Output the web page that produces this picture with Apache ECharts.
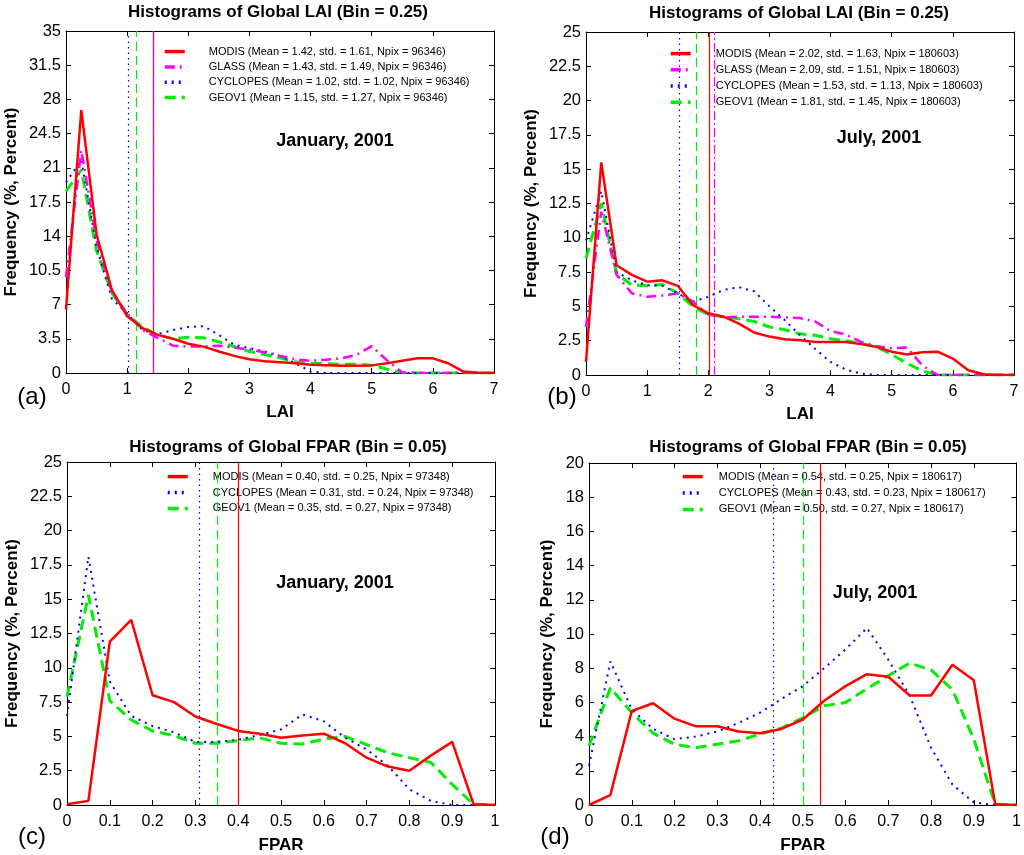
<!DOCTYPE html>
<html>
<head>
<meta charset="utf-8">
<title>Histograms of Global LAI / FPAR</title>
<script src="https://cdn.jsdelivr.net/npm/echarts@6/dist/echarts.min.js"></script>
<style>
  html, body { margin: 0; padding: 0; background: #fff; }
  #main { width: 1024px; height: 855px; }
</style>
</head>
<body>
<div id="main"></div>
<script>
// bin centres
var laiBins = [0, 0.25, 0.5, 0.75, 1, 1.25, 1.5, 1.75, 2, 2.25, 2.5, 2.75, 3, 3.25, 3.5, 3.75,
               4, 4.25, 4.5, 4.75, 5, 5.25, 5.5, 5.75, 6, 6.25, 6.5, 6.75, 7];
var fparBins = [0, 0.05, 0.1, 0.15, 0.2, 0.25, 0.3, 0.35, 0.4, 0.45, 0.5, 0.55, 0.6, 0.65,
                0.7, 0.75, 0.8, 0.85, 0.9, 0.95, 1];

// (a) LAI, January 2001
var laiJanModis = [6.5, 26.9, 14.2, 8.5, 5.8, 4.6, 3.9, 3.5, 3.0, 2.7, 2.2, 1.75, 1.4, 1.2, 1.1, 1.0,
                   0.85, 0.8, 0.75, 0.75, 0.78, 1.0, 1.25, 1.5, 1.5, 1.0, 0.15, 0.03, 0];
var laiJanGlass = [9.8, 22.8, 13.6, 8.3, 6.1, 4.4, 3.6, 2.8, 2.7, 2.7, 2.8, 2.6, 2.4, 2.1, 1.75, 1.4,
                   1.25, 1.35, 1.5, 1.85, 2.75, 1.3, 0.05, 0, 0, 0, 0, 0, 0];
var laiJanCyclopes = [19.5, 21.8, 12.9, 7.6, 6.1, 4.4, 4.0, 4.4, 4.7, 4.8, 3.9, 2.9, 2.55, 2.2, 1.75, 1.0,
                      0.15, 0, 0, 0, 0, 0, 0, 0, 0, 0, 0, 0, 0];
var laiJanGeov1 = [18.6, 20.8, 12.5, 8.2, 6.0, 4.7, 3.9, 3.5, 3.65, 3.6, 3.2, 2.7, 2.2, 1.9, 1.55, 1.15,
                   1.0, 0.95, 0.9, 0.9, 0.8, 0.4, 0.05, 0, 0, 0, 0, 0, 0];
var laiJanMeans = [1.42, 1.43, 1.02, 1.15];
var laiJanStd = [1.61, 1.49, 1.02, 1.27];
var laiJanNpix = 96346;

// (b) LAI, July 2001
var laiJulModis = [0.95, 15.5, 8.0, 7.3, 6.8, 6.9, 6.5, 5.1, 4.5, 4.25, 3.75, 3.1, 2.8, 2.6, 2.53, 2.4,
                   2.4, 2.4, 2.25, 2.05, 1.7, 1.5, 1.65, 1.7, 1.2, 0.35, 0.05, 0, 0];
var laiJulGlass = [3.5, 11.9, 7.3, 5.95, 5.7, 5.8, 5.95, 5.35, 4.4, 4.2, 4.25, 4.25, 4.25, 4.2, 4.15, 3.9,
                   3.2, 2.95, 2.4, 2.1, 1.95, 2.0, 0.7, 0, 0, 0, 0, 0, 0];
var laiJulCyclopes = [9.8, 13.4, 7.5, 6.9, 6.55, 6.5, 5.95, 5.35, 5.7, 6.2, 6.4, 6.1, 5.0, 4.0, 2.9, 1.9,
                      0.95, 0.4, 0.1, 0, 0, 0, 0, 0, 0, 0, 0, 0, 0];
var laiJulGeov1 = [8.5, 12.5, 7.4, 6.55, 6.5, 6.6, 5.95, 5.0, 4.4, 4.25, 4.1, 3.9, 3.5, 3.3, 3.0, 2.9,
                   2.65, 2.5, 2.3, 2.05, 1.5, 0.85, 0.3, 0, 0, 0, 0, 0, 0];
var laiJulMeans = [2.02, 2.09, 1.53, 1.81];
var laiJulStd = [1.63, 1.51, 1.13, 1.45];
var laiJulNpix = 180603;

// (c) FPAR, January 2001
var fparJanModis = [0.05, 0.3, 11.9, 13.5, 8.0, 7.5, 6.45, 5.9, 5.4, 5.2, 4.9, 5.07, 5.2, 4.5, 3.45,
                    2.8, 2.5, 3.6, 4.6, 0.05, 0];
var fparJanCyclopes = [6.5, 18.1, 9.0, 6.5, 5.75, 5.3, 4.6, 4.6, 4.75, 5.1, 5.5, 6.6, 6.1, 4.9, 4.05,
                       2.85, 1.15, 0.3, 0, 0, 0];
var fparJanGeov1 = [7.9, 15.3, 7.6, 6.2, 5.4, 5.05, 4.5, 4.5, 4.7, 4.9, 4.5, 4.45, 4.8, 5.0, 4.4,
                    3.8, 3.45, 3.1, 1.5, 0.05, 0];
var fparJanMeans = [0.40, 0.31, 0.35];
var fparJanStd = [0.25, 0.24, 0.27];
var fparJanNpix = 97348;

// (d) FPAR, July 2001
var fparJulModis = [0, 0.58, 5.5, 5.95, 5.05, 4.6, 4.6, 4.3, 4.2, 4.45, 5.0, 6.1, 6.95, 7.65, 7.5,
                    6.4, 6.4, 8.2, 7.3, 0.05, 0];
var fparJulCyclopes = [2.3, 8.4, 5.6, 4.45, 3.85, 4.0, 4.3, 4.8, 5.4, 6.2, 6.95, 8.0, 9.1, 10.35, 8.5,
                       6.4, 3.35, 1.2, 0.15, 0, 0];
var fparJulGeov1 = [3.45, 6.85, 5.4, 4.2, 3.55, 3.35, 3.55, 3.75, 4.15, 4.5, 5.1, 5.8, 6.0, 6.8, 7.55,
                    8.3, 7.9, 6.75, 3.85, 0.05, 0];
var fparJulMeans = [0.54, 0.43, 0.50];
var fparJulStd = [0.25, 0.23, 0.27];
var fparJulNpix = 180617;

var FONT = 'Liberation Sans, Arial, sans-serif';

// line look per product
var looks = {
    MODIS:    { color: '#ff0000', width: 2.5, type: 'solid',         meanType: 'solid' },
    GLASS:    { color: '#ff00ff', width: 2.5, type: [10, 5, 2, 5],   meanType: [9, 3, 2, 3] },
    CYCLOPES: { color: '#0000ff', width: 2,   type: [2, 5],          meanType: [1.5, 4] },
    GEOV1:    { color: '#00ee00', width: 3,   type: [11, 6],         meanType: [9, 5] }
};

function zip(xs, ys) {
    return xs.map(function (x, i) { return [x, ys[i]]; });
}

var panels = [
    { tag: '(a)', title: 'Histograms of Global LAI (Bin = 0.25)', when: 'January, 2001', xName: 'LAI',
      bins: laiBins, names: ['MODIS', 'GLASS', 'CYCLOPES', 'GEOV1'],
      vals: [laiJanModis, laiJanGlass, laiJanCyclopes, laiJanGeov1],
      means: laiJanMeans, std: laiJanStd, npix: laiJanNpix,
      xmax: 7, xstep: 1, ymax: 35, ystep: 3.5,
      grid: { left: 66, top: 31, width: 428, height: 342 }, yGap: 46, xGap: 31,
      leg: { left: 163, top: 46, gap: 4.1, pad: 19 },
      titleAt: [278, 12], whenAt: [335, 141], tagAt: [32, 397] },
    { tag: '(b)', title: 'Histograms of Global LAI (Bin = 0.25)', when: 'July, 2001', xName: 'LAI',
      bins: laiBins, names: ['MODIS', 'GLASS', 'CYCLOPES', 'GEOV1'],
      vals: [laiJulModis, laiJulGlass, laiJulCyclopes, laiJulGeov1],
      means: laiJulMeans, std: laiJulStd, npix: laiJulNpix,
      xmax: 7, xstep: 1, ymax: 25, ystep: 2.5,
      grid: { left: 586, top: 32, width: 428, height: 343 }, yGap: 46, xGap: 31,
      leg: { left: 669, top: 48, gap: 5, pad: 20 },
      titleAt: [799, 13], whenAt: [879, 138], tagAt: [562, 397] },
    { tag: '(c)', title: 'Histograms of Global FPAR (Bin = 0.05)', when: 'January, 2001', xName: 'FPAR',
      bins: fparBins, names: ['MODIS', 'CYCLOPES', 'GEOV1'],
      vals: [fparJanModis, fparJanCyclopes, fparJanGeov1],
      means: fparJanMeans, std: fparJanStd, npix: fparJanNpix,
      xmax: 1, xstep: 0.1, ymax: 25, ystep: 2.5,
      grid: { left: 67, top: 462, width: 428, height: 344 }, yGap: 46, xGap: 32,
      leg: { left: 166, top: 471, gap: 4.7, pad: 20 },
      titleAt: [288, 447], whenAt: [335, 583], tagAt: [32, 837] },
    { tag: '(d)', title: 'Histograms of Global FPAR (Bin = 0.05)', when: 'July, 2001', xName: 'FPAR',
      bins: fparBins, names: ['MODIS', 'CYCLOPES', 'GEOV1'],
      vals: [fparJulModis, fparJulCyclopes, fparJulGeov1],
      means: fparJulMeans, std: fparJulStd, npix: fparJulNpix,
      xmax: 1, xstep: 0.1, ymax: 20, ystep: 2,
      grid: { left: 589, top: 463, width: 428, height: 343 }, yGap: 33, xGap: 32,
      leg: { left: 681, top: 471, gap: 5.2, pad: 11 },
      titleAt: [808, 447], whenAt: [875, 593], tagAt: [555, 837] }
];

var grids = [], xAxes = [], yAxes = [], series = [], legends = [], texts = [];

var boxLine = { show: true, onZero: false, lineStyle: { color: '#000', width: 1 } };
var boxTick = { show: true, inside: true, length: 5, lineStyle: { color: '#000' } };

panels.forEach(function (p, k) {
    grids.push(p.grid);
    // bottom / left axes with labels
    xAxes.push({
        type: 'value', gridIndex: k, position: 'bottom', min: 0, max: p.xmax, interval: p.xstep,
        name: p.xName, nameLocation: 'middle', nameGap: p.xGap,
        nameTextStyle: { fontFamily: FONT, fontWeight: 'bold', fontSize: 17, color: '#000' },
        axisLine: boxLine, axisTick: boxTick, splitLine: { show: false },
        axisLabel: { fontFamily: FONT, fontSize: 16, color: '#000', margin: 9 }
    });
    yAxes.push({
        type: 'value', gridIndex: k, position: 'left', min: 0, max: p.ymax, interval: p.ystep,
        name: 'Frequency (%, Percent)', nameLocation: 'middle', nameRotate: 90, nameGap: p.yGap,
        nameTextStyle: { fontFamily: FONT, fontWeight: 'bold', fontSize: 17, color: '#000' },
        axisLine: boxLine, axisTick: boxTick, splitLine: { show: false },
        axisLabel: { fontFamily: FONT, fontSize: 16.5, color: '#000', margin: 5 }
    });
    // top / right axes close the box
    xAxes.push({
        type: 'value', gridIndex: k, position: 'top', min: 0, max: p.xmax, interval: p.xstep,
        axisLine: boxLine, axisTick: boxTick, axisLabel: { show: false }, splitLine: { show: false }
    });
    yAxes.push({
        type: 'value', gridIndex: k, position: 'right', min: 0, max: p.ymax, interval: p.ystep,
        axisLine: boxLine, axisTick: boxTick, axisLabel: { show: false }, splitLine: { show: false }
    });

    var legendNames = [];
    p.names.forEach(function (nm, i) {
        var lk = looks[nm];
        var label = nm + ' (Mean = ' + p.means[i].toFixed(2) + ', std. = ' + p.std[i].toFixed(2) +
                    ', Npix = ' + p.npix + ')';
        legendNames.push(label);
        series.push({
            name: label, type: 'line', xAxisIndex: 2 * k, yAxisIndex: 2 * k,
            data: zip(p.bins, p.vals[i]), symbol: 'none', smooth: false, animation: false,
            z: 10 - i,
            lineStyle: { color: lk.color, width: lk.width, type: lk.type },
            itemStyle: { color: lk.color },
            markLine: {
                silent: true, symbol: ['none', 'none'], label: { show: false },
                lineStyle: { color: lk.color, width: 1.2, type: lk.meanType },
                emphasis: { disabled: true },
                data: [{ xAxis: p.means[i] }]
            }
        });
    });

    legends.push({
        orient: 'vertical', left: p.leg.left, top: p.leg.top, padding: 0,
        itemWidth: 20, itemHeight: 14, itemGap: p.leg.gap,
        selectedMode: false, data: legendNames,
        lineStyle: { width: 3.5 },
        itemStyle: { opacity: 0 },
        textStyle: { fontFamily: FONT, fontSize: 11, color: '#000', padding: [0, 0, 0, p.leg.pad] }
    });

    texts.push({
        type: 'text', x: p.titleAt[0], y: p.titleAt[1],
        style: { text: p.title, fill: '#000', font: 'bold 17px ' + FONT, textAlign: 'center', textVerticalAlign: 'middle' }
    });
    texts.push({
        type: 'text', x: p.whenAt[0], y: p.whenAt[1],
        style: { text: p.when, fill: '#000', font: 'bold 18px ' + FONT, textAlign: 'center', textVerticalAlign: 'middle' }
    });
    texts.push({
        type: 'text', x: p.tagAt[0], y: p.tagAt[1],
        style: { text: p.tag, fill: '#000', font: '24px ' + FONT, textAlign: 'center', textVerticalAlign: 'middle' }
    });
});

var myChart = echarts.init(document.getElementById('main'), null, { renderer: 'canvas' });
myChart.setOption({
    backgroundColor: '#fff',
    animation: false,
    grid: grids,
    xAxis: xAxes,
    yAxis: yAxes,
    legend: legends,
    series: series,
    graphic: texts
});
</script>
</body>
</html>
